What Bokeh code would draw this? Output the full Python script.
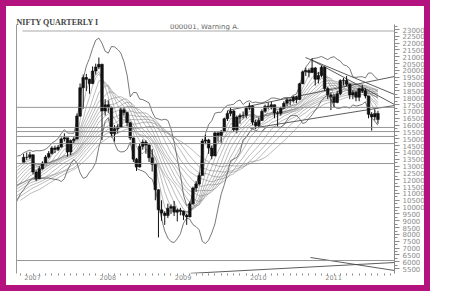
import numpy as np
import pandas as pd
from bokeh.plotting import figure
from bokeh.models import Range1d, LinearAxis, FixedTicker, Span, BoxAnnotation, Label, ColumnDataSource
from bokeh.embed import file_html
from bokeh.resources import INLINE

# semi-monthly closes (mid-month, month-end), Jul 2005 - Dec 2006: only feed the averages at the left edge
close_pre = [7670, 7970, 8120, 8200, 8760, 8890, 8510, 8150, 8670, 9060, 9440, 9650,
             9950, 10180, 10340, 10410, 10880, 11470, 11720, 11970, 12260, 10400, 9530, 10590,
             10340, 10630, 11200, 11500, 11720, 12060, 12360, 12560, 12940, 13240, 12970, 13280]

close_2007 = [13640, 13650, 13830, 12570, 12100, 12810, 13220, 13660, 13930, 14330, 14220, 14400,
              14990, 15080, 14030, 14870, 14990, 16660, 18740, 19480, 19350, 19040, 19960, 20250]
high_2007 = [13900, 14000, 14050, 13850, 12700, 13000, 13350, 13800, 14100, 14450, 14500, 14550,
             15100, 15400, 15050, 14950, 15150, 16850, 19050, 19700, 19750, 19400, 20300, 20500]
low_2007 = [13300, 13450, 13500, 12400, 11900, 12050, 12750, 13150, 13550, 13850, 13950, 14100,
            14350, 14800, 13700, 13800, 14700, 14950, 16600, 17200, 18500, 18300, 19000, 19700]

close_2008 = [20450, 17030, 17490, 17310, 15370, 15740, 15860, 17120, 16920, 16180, 15050, 13510,
              12930, 14450, 14760, 14540, 13610, 13130, 11270, 9800, 9560, 9390, 9920, 10040]
high_2008 = [20950, 20500, 17900, 17800, 17350, 16000, 16050, 17300, 17300, 16950, 16200, 15100,
             13600, 14650, 14950, 14900, 14600, 14250, 13100, 11300, 10500, 9700, 10250, 10200]
low_2008 = [20100, 14900, 16700, 16900, 15100, 14800, 15400, 15800, 16700, 15900, 14900, 13300,
            12650, 12900, 14200, 13900, 13300, 12600, 10500, 7780, 9000, 8700, 9200, 9500]

close_2009 = [9630, 9770, 9690, 9410, 9280, 10240, 11390, 11700, 12320, 14830, 14920, 14320,
              13740, 15430, 15250, 15510, 16470, 16860, 17040, 15670, 16590, 16700, 16720, 17240]
high_2009 = [10450, 9900, 9950, 9750, 9500, 10400, 11500, 11900, 12500, 15000, 15300, 15000,
             14500, 15550, 15500, 15650, 16550, 17050, 17300, 17100, 16700, 16850, 17000, 17350]
low_2009 = [9350, 8950, 9400, 9050, 8700, 9250, 10200, 11100, 11600, 13800, 14600, 13900,
            13500, 13800, 14800, 14700, 15500, 16300, 16650, 15500, 15400, 16100, 16500, 16500]

close_2010 = [17400, 16220, 15950, 16340, 17010, 17390, 17330, 17490, 16880, 16870, 17240, 17600,
              17850, 17780, 18040, 17880, 19030, 19900, 20000, 19860, 20190, 19360, 19640, 20240]
high_2010 = [17650, 17450, 16400, 16550, 17150, 17500, 17650, 17700, 17500, 17050, 17350, 17750,
             17950, 17950, 18150, 18150, 19100, 20000, 20200, 20150, 20900, 20250, 19900, 20350]
low_2010 = [17100, 16000, 15700, 15850, 16300, 16900, 17150, 17150, 16500, 15900, 16700, 17200,
            17400, 17450, 17650, 17600, 17850, 19000, 19600, 19500, 19800, 18900, 19050, 19500]

close_2011 = [18680, 18220, 18070, 17660, 18300, 19270, 19290, 19000, 18200, 18390, 18040, 18670,
              18520, 18140, 16790, 16600, 16850, 16410]
high_2011 = [20300, 18800, 18400, 18300, 18500, 19350, 19450, 19600, 19050, 18550, 18500, 18750,
             18950, 18700, 18150, 16950, 17150, 17050]
low_2011 = [18500, 17900, 17100, 17300, 17600, 18200, 18900, 18850, 17900, 17900, 17750, 17750,
            18350, 17950, 16500, 15600, 16350, 16100]

ribbon_periods = [4, 6, 8, 10, 12, 14, 16, 18, 20, 23, 26, 29, 32, 36]
band_period = 10

levels = [17300, 15830, 15530, 15170, 14650, 13190, 6090]

trend_t0 = [2010.056, 2009.751, 2010.787, 2010.880, 2009.259, 2010.854]
trend_v0 = [15753, 17071, 20950, 20731, 5150, 6310]
trend_t1 = [2011.970, 2011.970, 2011.970, 2011.970, 2011.970, 2011.970]
trend_v1 = [17437, 19560, 18242, 17510, 5944, 5359]

y_ticks = [23000, 22500, 22000, 21500, 21000, 20500, 20000, 19500, 19000, 18500, 18000, 17500,
           17000, 16500, 16000, 15500, 15000, 14500, 14000, 13500, 13000, 12500, 12000, 11500,
           11000, 10500, 10000, 9500, 9000, 8500, 8000, 7500, 7000, 6500, 6000, 5500]
x_ticks = [2007, 2008, 2009, 2010, 2011]
x_tick_labels = ["2007", "2008", "2009", "2010", "2011"]

title_text = "NIFTY QUARTERLY I"
subtitle_text = "000001, Warning A."

# ---------------------------------------------------------------
closes = np.array(close_pre + close_2007 + close_2008 + close_2009 + close_2010 + close_2011, dtype=float)
n = len(closes)
t_all = 2005.5 + (np.arange(n) + 1) / 24.0
npre = len(close_pre)

highs = np.array(high_2007 + high_2008 + high_2009 + high_2010 + high_2011, dtype=float)
lows = np.array(low_2007 + low_2008 + low_2009 + low_2010 + low_2011, dtype=float)
c = closes[npre:]
o = closes[npre - 1:-1]
tc = t_all[npre:]

W, H = 430, 291
p = figure(width=W, height=H, x_range=Range1d(2006.947, 2011.970), y_range=Range1d(5140, 23366),
           output_backend="svg", toolbar_location=None, x_axis_location="below", y_axis_location="right",
           min_border_left=10, min_border_right=42, min_border_top=18, min_border_bottom=24)
p.styles = {"border": "6px solid #b3127f"}
p.grid.visible = False
p.outline_line_color = None
p.background_fill_color = "white"
p.border_fill_color = "white"

# horizontal levels
for lv in levels:
    p.add_layout(Span(location=lv, dimension="width", line_color="#8a8a8a", line_width=0.9))

# moving-average ribbon
s = pd.Series(closes)
for w in ribbon_periods:
    ma = s.rolling(w).mean().to_numpy()
    ok = ~np.isnan(ma)
    p.line(t_all[ok], ma[ok], line_color="#777777", line_width=0.5)

# envelope bands
mid = s.rolling(band_period).mean()
sd = s.rolling(band_period).std(ddof=0)
up = (mid + 2 * sd).to_numpy()
dn = (mid - 2 * sd).to_numpy()
ok = ~np.isnan(up)
p.line(t_all[ok], up[ok], line_color="#555", line_width=0.8)
p.line(t_all[ok], dn[ok], line_color="#555", line_width=0.8)

# trend lines
p.segment(trend_t0, trend_v0, trend_t1, trend_v1, line_color="#4a4a4a", line_width=0.9)

# candles
src = ColumnDataSource(dict(t=tc, hi=highs, lo=lows, top=np.maximum(o, c), bot=np.minimum(o, c)))
p.segment("t", "lo", "t", "hi", source=src, line_color="#111", line_width=1.0)
p.vbar(x="t", top="top", bottom="bot", width=0.036, source=src, fill_color="#111", line_color="#111", line_width=0.5)

# axes
yax = p.yaxis[0]
yax.ticker = FixedTicker(ticks=y_ticks, minor_ticks=[v + 250 for v in y_ticks])
yax.axis_line_color = "#8a8a8a"
yax.major_tick_line_color = "#8a8a8a"
yax.minor_tick_line_color = "#8a8a8a"
yax.major_tick_in = 0
yax.major_tick_out = 5
yax.minor_tick_in = 0
yax.minor_tick_out = 3
yax.major_label_standoff = 3
yax.major_label_text_font = "DejaVu Sans"
yax.major_label_text_font_size = "7px"
yax.major_label_text_color = "#8a8a8a"

# year labels start just right of the year mark, so they are centred a little after it
label_pos = [yr + 0.16 for yr in x_ticks]
months = [2007 + k / 12 for k in range(0, 61)]
xax = p.xaxis[0]
xax.ticker = FixedTicker(ticks=label_pos, minor_ticks=months)
xax.major_label_overrides = {t: lab for t, lab in zip(label_pos, x_tick_labels)}
xax.axis_line_color = None
xax.major_tick_line_color = None
xax.minor_tick_line_color = "#888"
xax.minor_tick_in = 0
xax.minor_tick_out = 2
xax.major_tick_out = 0
xax.major_label_standoff = -1
xax.major_label_text_font = "DejaVu Sans"
xax.major_label_text_font_size = "6.5px"
xax.major_label_text_color = "#888"

lax = LinearAxis(ticker=FixedTicker(ticks=[]), axis_line_color="#999", major_tick_line_color=None,
                 minor_tick_line_color=None, major_label_text_font_size="0px")
p.add_layout(lax, "left")

p.title.text = title_text
p.title.align = "left"
p.title.text_font = "Liberation Serif"
p.title.text_font_style = "bold"
p.title.text_font_size = "8px"
p.title.text_color = "#444"
p.title.standoff = -4
p.title.offset = 0

p.add_layout(Label(x=2009.445, y=22854, text=subtitle_text, text_align="center",
                   text_font="DejaVu Sans", text_font_size="7px", text_color="#666"))

# top rule running over the price scale
p.add_layout(BoxAnnotation(left=10, right=424, top=18, bottom=19, left_units="canvas", right_units="canvas",
                           top_units="canvas", bottom_units="canvas", fill_color="#aaaaaa", fill_alpha=1,
                           line_color=None))

open("out.html", "w").write(file_html(p, INLINE))
